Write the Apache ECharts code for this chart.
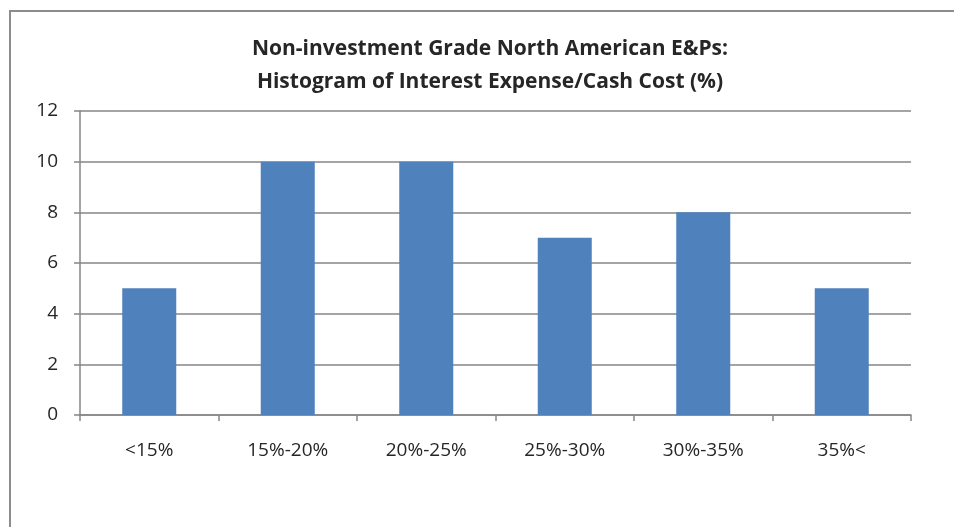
<!DOCTYPE html>
<html>
<head>
<meta charset="utf-8">
<script src="https://cdn.jsdelivr.net/npm/echarts@6/dist/echarts.min.js"></script>
<style>
  html, body { margin: 0; padding: 0; background: #fff; }
  #chart { width: 954px; height: 527px; }
</style>
</head>
<body>
<div id="chart"></div>
<script>
// histogram buckets and counts
const categories = ['<15%', '15%-20%', '20%-25%', '25%-30%', '30%-35%', '35%<']
const counts = [5, 10, 10, 7, 8, 5]
const titleLines = ['Non-investment Grade North American E&Ps:', 'Histogram of Interest Expense/Cash Cost (%)']

const chart = echarts.init(document.getElementById('chart'))
const axisColor = '#868686'
const textColor = '#262626'

chart.setOption({
  animation: false,
  title: {
    text: titleLines.join('\n'),
    left: 485, // title sits a bit right of the page centre
    textAlign: 'center',
    top: 28,
    textStyle: {
      fontFamily: 'Open Sans',
      fontWeight: 'bold',
      fontSize: 21,
      lineHeight: 33,
      color: textColor
    }
  },
  // outer frame of the chart area
  graphic: [{
    type: 'rect',
    shape: { x: 10, y: 11, width: 980, height: 560 },
    style: { fill: 'none', stroke: '#8c8c8c', lineWidth: 2 }
  }],
  grid: {
    left: 80,
    right: 43,
    top: 111,
    bottom: 112
  },
  xAxis: {
    type: 'category',
    data: categories,
    axisLine: { lineStyle: { color: axisColor, width: 1.5 } },
    axisTick: { show: true, length: 6, lineStyle: { color: axisColor, width: 1.5 } },
    axisLabel: {
      margin: 26,
      fontFamily: 'Open Sans',
      fontSize: 19,
      color: textColor
    },
    splitLine: { show: false }
  },
  yAxis: {
    type: 'value',
    min: 0,
    max: 12,
    interval: 2,
    axisLine: { show: true, lineStyle: { color: axisColor, width: 1.5 } },
    axisTick: { show: true, length: 6, lineStyle: { color: axisColor, width: 1.5 } },
    axisLabel: {
      margin: 22,
      fontFamily: 'Open Sans',
      fontSize: 19,
      color: textColor
    },
    splitLine: { lineStyle: { color: axisColor, width: 1.5 } }
  },
  series: [{
    type: 'bar',
    data: counts,
    barWidth: '39%',
    itemStyle: { color: '#4f81bd' }
  }]
})
</script>
</body>
</html>
